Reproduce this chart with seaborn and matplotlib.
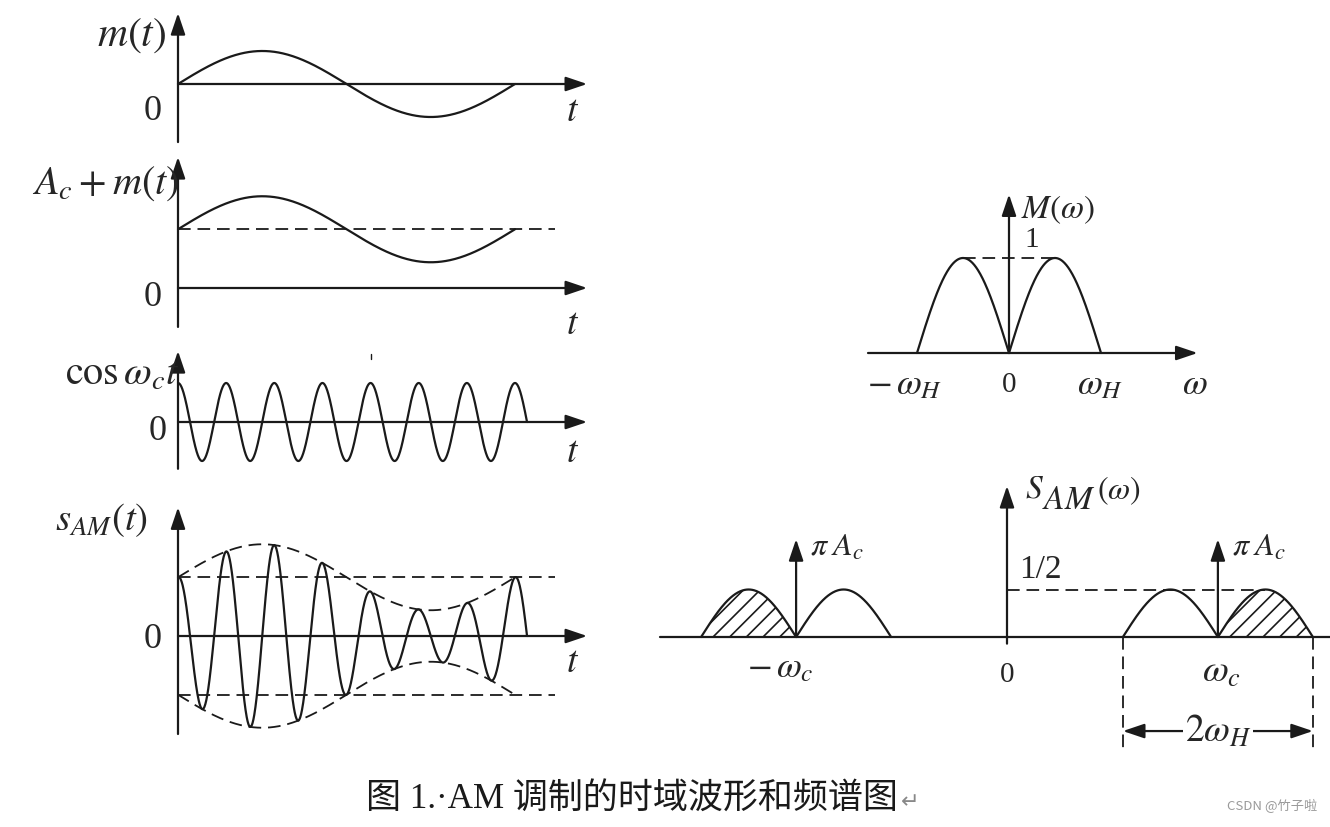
import numpy as np
import matplotlib
matplotlib.use("Agg")
import matplotlib.pyplot as plt
import seaborn as sns

# ---- values (schematic units) ----
A_C = 1.78                 # carrier level, in units of the message amplitude
M_AMP = 1.0                # message amplitude
CARRIER_CYCLES = 7         # carrier cycles in one message period
T_MSG_END = 1.0            # message drawn over one period
T_CAR_END = 1.0 + 1 / 28   # carrier stops at the zero crossing after the last peak
T_DASH_END = 1.12          # dashed reference lines on the left panels
W_H = 1.0                  # message bandwidth
W_C = 2.22                 # carrier frequency (in units of W_H)
M_PEAK = 1.0               # M(w) peak
S_PEAK = 0.5               # S_AM(w) side-band peak, "1/2"
IMPULSE = 1.03             # height of the pi*A_c impulses

t_msg = np.linspace(0, T_MSG_END, 400)
t_car = np.linspace(0, T_CAR_END, 1200)

W, H = 1330, 828
sns.set_theme(style="white")
plt.rcParams["font.family"] = ["Liberation Serif", "Noto Sans CJK SC", "DejaVu Sans"]
plt.rcParams["mathtext.fontset"] = "stix"
plt.rcParams["hatch.linewidth"] = 1.2

fig = plt.figure(figsize=(W / 100, H / 100), dpi=100)
fig.patch.set_facecolor("white")

LW = 1.6
DASH = (0, (7, 3.8))
FS_LAB = 29    # left-panel names
FS = 26        # left-panel "0" and "t"
FS_R = 20      # right-panel digits


def panel(ox, oy, sx, sy, xlim, ylim):
    # ox, oy: pixel position of the origin; sx, sy: pixels per unit
    left = ox + xlim[0] * sx
    right = ox + xlim[1] * sx
    top = oy - ylim[1] * sy
    bottom = oy - ylim[0] * sy
    ax = fig.add_axes([left / W, 1 - bottom / H, (right - left) / W, (bottom - top) / H])
    ax.set_xlim(xlim)
    ax.set_ylim(ylim)
    ax.axis("off")
    return ax


def arrow(ax, x0, y0, x1, y1, style="-|>"):
    ax.annotate("", xy=(x1, y1), xytext=(x0, y0), annotation_clip=False,
                arrowprops=dict(arrowstyle=f"{style},head_length=0.65,head_width=0.22",
                                mutation_scale=20, lw=LW, color="k",
                                shrinkA=0, shrinkB=0))


def curve(ax, x, y, **kw):
    sns.lineplot(x=x, y=y, ax=ax, color="k", linewidth=LW, sort=False,
                 estimator=None, legend=False, **kw)


# ---------------- m(t) ----------------
ax1 = panel(178, 85, 337, 33, (-0.55, 1.3), (-1.9, 2.3))
arrow(ax1, 0, -1.76, 0, 2.15)
arrow(ax1, 0, 0, 1.214, 0)
curve(ax1, t_msg, M_AMP * np.sin(2 * np.pi * t_msg))
ax1.text(-0.035, 1.5, r"$m(t)$", fontsize=FS_LAB + 1, ha="right", va="center")
ax1.text(-0.075, -0.8, "0", fontsize=FS, ha="center", va="center")
ax1.text(1.17, -0.8, r"$t$", fontsize=FS + 1, ha="center", va="center")

# ---------------- A_c + m(t) ----------------
ax2 = panel(178, 289, 337, 33, (-0.55, 1.3), (-1.4, 4.2))
arrow(ax2, 0, -1.18, 0, 3.97)
arrow(ax2, 0, 0, 1.214, 0)
ax2.plot([0, T_DASH_END], [A_C, A_C], color="k", lw=1.3, ls=DASH)
curve(ax2, t_msg, A_C + M_AMP * np.sin(2 * np.pi * t_msg))
ax2.text(0.005, 3.2, r"$A_c+m(t)$", fontsize=FS_LAB, ha="right", va="center")
ax2.text(-0.075, -0.27, "0", fontsize=FS, ha="center", va="center")
ax2.text(1.17, -1.09, r"$t$", fontsize=FS + 1, ha="center", va="center")

# ---------------- cos w_c t ----------------
ax3 = panel(178, 423, 337, 39, (-0.55, 1.3), (-1.35, 2.0))
arrow(ax3, 0, -1.2, 0, 1.82)
arrow(ax3, 0, 0, 1.214, 0)
curve(ax3, t_car, np.cos(2 * np.pi * CARRIER_CYCLES * t_car))
ax3.plot([0.573, 0.573], [1.62, 1.74], color="k", lw=1.0)
ax3.text(0.005, 1.23, r"$\mathrm{cos}\,\omega_c t$", fontsize=FS_LAB, ha="right", va="center")
ax3.text(-0.06, -0.23, "0", fontsize=FS, ha="center", va="center")
ax3.text(1.17, -0.77, r"$t$", fontsize=FS + 1, ha="center", va="center")

# ---------------- s_AM(t) ----------------
ax4 = panel(178, 637, 337, 33, (-0.55, 1.3), (-3.1, 4.2))
arrow(ax4, 0, -2.97, 0, 3.9)
arrow(ax4, 0, 0, 1.214, 0)
env = A_C + M_AMP * np.sin(2 * np.pi * t_msg)
ax4.plot([0, T_DASH_END], [A_C, A_C], color="k", lw=1.3, ls=DASH)
ax4.plot([0, T_DASH_END], [-A_C, -A_C], color="k", lw=1.3, ls=DASH)
ax4.plot(t_msg, env, color="k", lw=1.3, ls=DASH)
ax4.plot(t_msg, -env, color="k", lw=1.3, ls=DASH)
s_am = (A_C + M_AMP * np.sin(2 * np.pi * t_car)) * np.cos(2 * np.pi * CARRIER_CYCLES * t_car)
curve(ax4, t_car, s_am)
ax4.text(-0.09, 3.55, r"$s_{AM}(t)$", fontsize=FS_LAB - 1, ha="right", va="center")
ax4.text(-0.075, -0.09, "0", fontsize=FS, ha="center", va="center")
ax4.text(1.17, -0.79, r"$t$", fontsize=FS + 1, ha="center", va="center")

# ---------------- M(w) ----------------
ax5 = panel(1009, 354, 92, 95, (-1.7, 2.3), (-0.7, 1.85))
ax5.plot([-1.53, 0], [0, 0], color="k", lw=LW)
arrow(ax5, 0, 0, 2.05, 0)
arrow(ax5, 0, 0, 0, 1.67)
w_lo = np.linspace(-W_H, 0, 200)
w_hi = np.linspace(0, W_H, 200)
curve(ax5, w_lo, M_PEAK * np.sin(np.pi * (w_lo + W_H) / W_H))
curve(ax5, w_hi, M_PEAK * np.sin(np.pi * w_hi / W_H))
ax5.plot([-0.5, 0.5], [M_PEAK, M_PEAK], color="k", lw=1.3, ls=DASH)
ax5.text(0.13, 1.52, r"$M(\omega)$", fontsize=24, ha="left", va="center")
ax5.text(0.25, 1.2, "1", fontsize=FS_R + 1, ha="center", va="center")
ax5.text(-1.13, -0.33, r"$-\,\omega_H$", fontsize=26, ha="center", va="center")
ax5.text(0.0, -0.33, "0", fontsize=FS_R + 1, ha="center", va="center")
ax5.text(0.99, -0.33, r"$\omega_H$", fontsize=26, ha="center", va="center")
ax5.text(2.02, -0.33, r"$\omega$", fontsize=26, ha="center", va="center")

# ---------------- S_AM(w) ----------------
ax6 = panel(1007, 638, 95, 95, (-3.75, 3.5), (-1.4, 1.75))
ax6.plot([-3.65, 3.5], [0, 0], color="k", lw=LW)
arrow(ax6, 0, -0.07, 0, 1.59)
for c, hatched in [(-W_C, "lower"), (W_C, "upper")]:
    lsb = np.linspace(c - W_H, c, 200)
    usb = np.linspace(c, c + W_H, 200)
    y_lsb = S_PEAK * np.sin(np.pi * (lsb - c + W_H) / W_H)
    y_usb = S_PEAK * np.sin(np.pi * (usb - c) / W_H)
    if hatched == "lower":
        ax6.fill_between(lsb, 0, y_lsb, facecolor="none", edgecolor="k", hatch="//", linewidth=0)
    else:
        ax6.fill_between(usb, 0, y_usb, facecolor="none", edgecolor="k", hatch="//", linewidth=0)
    curve(ax6, lsb, y_lsb)
    curve(ax6, usb, y_usb)
    arrow(ax6, c, 0, c, IMPULSE)
    ax6.text(c + 0.15, 0.95, r"$\pi\;A_c$", fontsize=23, ha="left", va="center")
ax6.plot([0, W_C + 0.5], [S_PEAK, S_PEAK], color="k", lw=1.3, ls=DASH)
for x in (W_C - W_H, W_C + W_H):
    ax6.plot([x, x], [0, -1.2], color="k", lw=1.3, ls=DASH)
arrow(ax6, W_C - W_H, -0.99, W_C + W_H, -0.99, style="<|-|>")
ax6.text(W_C, -0.99, r"$2\omega_H$", fontsize=27, ha="center", va="center",
         bbox=dict(facecolor="white", edgecolor="none", pad=1))
ax6.text(0.13, 0.72, "1/2", fontsize=24, ha="left", va="center")
ax6.text(0.19, 1.48, r"$S$", fontsize=24, ha="left", va="baseline")
ax6.text(0.37, 1.36, r"$AM$", fontsize=24, ha="left", va="baseline")
ax6.text(0.95, 1.46, r"$(\omega)$", fontsize=23, ha="left", va="baseline")
ax6.text(-2.39, -0.32, r"$-\,\omega_c$", fontsize=26, ha="center", va="center")
ax6.text(0.0, -0.39, "0", fontsize=FS_R + 1, ha="center", va="center")
ax6.text(2.26, -0.36, r"$\omega_c$", fontsize=27, ha="center", va="center")

# ---------------- caption ----------------
fig.text(632 / W, 1 - 800 / H, "图 1.·AM 调制的时域波形和频谱图", fontsize=25.2,
         ha="center", va="center", color="k")
fig.text(901 / W, 1 - 802 / H, "↵", fontsize=16, ha="left", va="center", color="#888888",
         family=["DejaVu Sans"])
fig.text(1272 / W, 1 - 806 / H, "CSDN @竹子啦", fontsize=9.5, ha="center", va="center",
         color="#9a9a9a", family=["Noto Sans CJK SC", "DejaVu Sans"])

fig.savefig("out.png", dpi=100)
